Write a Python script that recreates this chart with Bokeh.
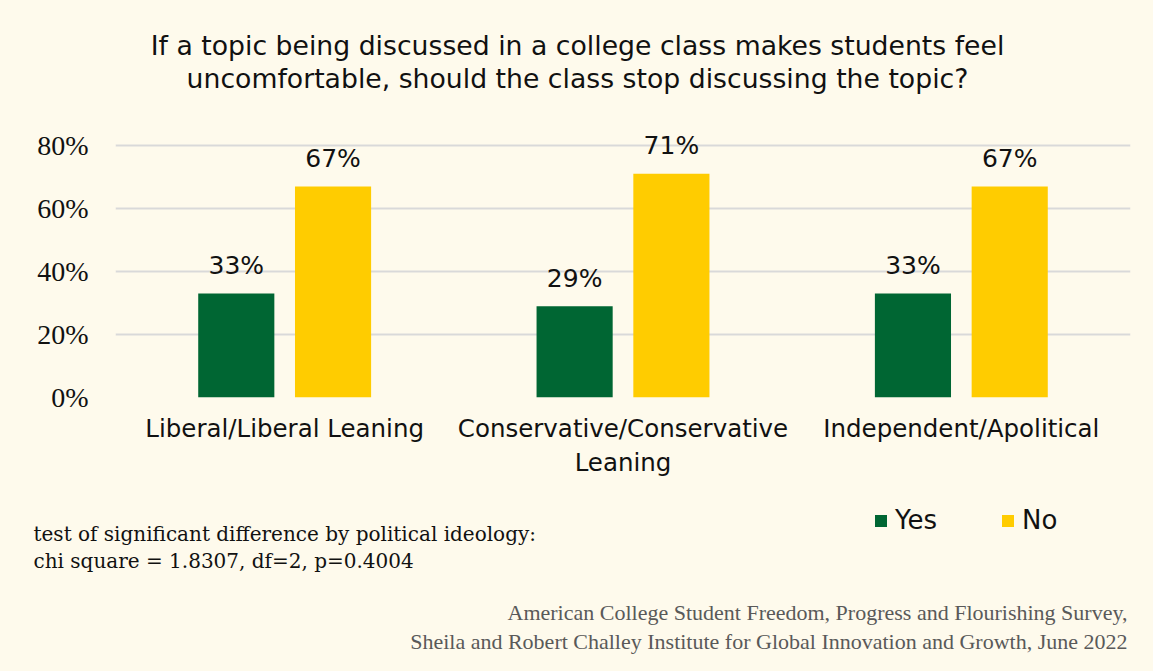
from bokeh.plotting import figure
from bokeh.layouts import column
from bokeh.models import (ColumnDataSource, FactorRange, Range1d, FixedTicker,
                          NumeralTickFormatter, LabelSet, Label, Legend, LegendItem)
from bokeh.core.properties import value
from bokeh.transform import dodge
from bokeh.embed import file_html
from bokeh.resources import INLINE

categories = ["Liberal/Liberal Leaning", "Conservative/Conservative\nLeaning", "Independent/Apolitical"]
yes_values = [0.33, 0.29, 0.33]
no_values = [0.67, 0.71, 0.67]
yes_labels = ["33%", "29%", "33%"]
no_labels = ["67%", "71%", "67%"]
y_ticks = [0, 0.2, 0.4, 0.6, 0.8]
series = ["Yes", "No"]

title_lines = ["If a topic being discussed in a college class makes students feel",
               "uncomfortable, should the class stop discussing the topic?"]
note_lines = ["test of significant difference by political ideology:",
              "chi square = 1.8307, df=2, p=0.4004"]
source_lines = ["American College Student Freedom, Progress and Flourishing Survey,",
                "Sheila and Robert Challey Institute for Global Innovation and Growth, June 2022"]

BG = "#FEFAEC"
GREEN = "#006633"
YELLOW = "#FFCC00"
SANS = "DejaVu Sans"
SERIF = "Liberation Serif"
SERIF2 = "DejaVu Serif"
INK = "#111111"
W = 1153
TOP_H = 120          # title strip height
FRAME_BOTTOM = 397   # page y of the 0% line
PX_PER_UNIT = 315    # pixels per 100%


def blank(height, y0, y1):
    f = figure(width=W, height=height, x_range=Range1d(0, W), y_range=Range1d(y1, y0),
               x_axis_type=None, y_axis_type=None, output_backend="svg", toolbar_location=None,
               min_border=0, frame_align=False)
    f.background_fill_color = BG
    f.border_fill_color = BG
    f.outline_line_color = None
    f.xgrid.visible = False
    f.ygrid.visible = False
    return f


def lab(f, text, x, y, align, font, size, color):
    f.add_layout(Label(x=x, y=y, text=text, text_align=align, text_baseline="middle",
                       text_font=font, text_font_size=size, text_color=color))


# ---------- title strip ----------
top = blank(TOP_H, 0, TOP_H)
lab(top, title_lines[0], 577, 45, "center", SANS, "26.7px", INK)
lab(top, title_lines[1], 577, 78, "center", SANS, "26.7px", INK)

# ---------- chart (page y TOP_H..490) ----------
src = ColumnDataSource(dict(cat=categories, yes=yes_values, no=no_values,
                            yes_lbl=yes_labels, no_lbl=no_labels))

frame_h = FRAME_BOTTOM - TOP_H
p = figure(x_range=FactorRange(*categories, range_padding=0),
           y_range=Range1d(0, frame_h / PX_PER_UNIT),
           width=W, height=490 - TOP_H, output_backend="svg", toolbar_location=None,
           frame_align=False,
           min_border_left=115, min_border_right=23, min_border_top=0, min_border_bottom=93)
p.background_fill_color = BG
p.border_fill_color = BG
p.outline_line_color = None

p.vbar(x=dodge("cat", -0.143, range=p.x_range), top="yes", width=0.225,
       source=src, color=GREEN, line_color=None)
p.vbar(x=dodge("cat", 0.143, range=p.x_range), top="no", width=0.225,
       source=src, color=YELLOW, line_color=None)

for col, ycol, off in (("yes_lbl", "yes", -0.143), ("no_lbl", "no", 0.143)):
    p.add_layout(LabelSet(x=dodge("cat", off, range=p.x_range), y=ycol, text=col, source=src,
                          y_offset=28, text_align="center", text_baseline="middle",
                          text_font=value(SANS), text_font_size=value("25px"),
                          text_color=INK))

p.yaxis.ticker = FixedTicker(ticks=y_ticks)
p.yaxis.formatter = NumeralTickFormatter(format="0%")
p.yaxis.axis_line_color = None
p.yaxis.major_tick_line_color = None
p.yaxis.minor_tick_line_color = None
p.yaxis.major_label_standoff = 21
p.yaxis.major_label_text_font = SERIF
p.yaxis.major_label_text_font_size = "28px"
p.yaxis.major_label_text_color = INK

p.xaxis.axis_line_color = None
p.xaxis.major_tick_line_color = None
p.xaxis.major_label_standoff = 10
p.xaxis.major_label_text_font = SANS
p.xaxis.major_label_text_font_size = "24.5px"
p.xaxis.major_label_text_color = INK

p.xgrid.grid_line_color = None
p.ygrid.ticker = FixedTicker(ticks=y_ticks)
p.ygrid.grid_line_color = "#D9D9D9"
p.ygrid.grid_line_width = 2

# ---------- notes / legend / source (page y 490..671) ----------
bot = blank(181, 490, 671)
lab(bot, note_lines[0], 33, 533, "left", SERIF2, "20px", INK)
lab(bot, note_lines[1], 33, 560, "left", SERIF2, "20px", INK)
lab(bot, source_lines[0], 1127, 612, "right", SERIF, "22px", "#595959")
lab(bot, source_lines[1], 1127, 641, "right", SERIF, "22px", "#595959")

# legend keys: the two series (hidden here; only their swatches are shown in the legend)
k_yes = bot.vbar(x="yes", top="yes", width=0, source=src, color=GREEN, line_color=None, visible=False)
k_no = bot.vbar(x="no", top="no", width=0, source=src, color=YELLOW, line_color=None, visible=False)
legend = Legend(items=[LegendItem(label=series[0], renderers=[k_yes]),
                       LegendItem(label=series[1], renderers=[k_no])],
                location=(873, 671 - 535), orientation="horizontal",
                glyph_width=15, glyph_height=15, label_standoff=7, spacing=63,
                padding=0, margin=0, border_line_color=None, background_fill_alpha=0,
                inactive_fill_alpha=0,
                label_text_font=SANS, label_text_font_size="26px", label_text_color=INK)
bot.add_layout(legend, "center")

page = column(top, p, bot, spacing=0)
page.styles = {"background-color": BG}
open("out.html", "w").write(file_html(page, INLINE))
